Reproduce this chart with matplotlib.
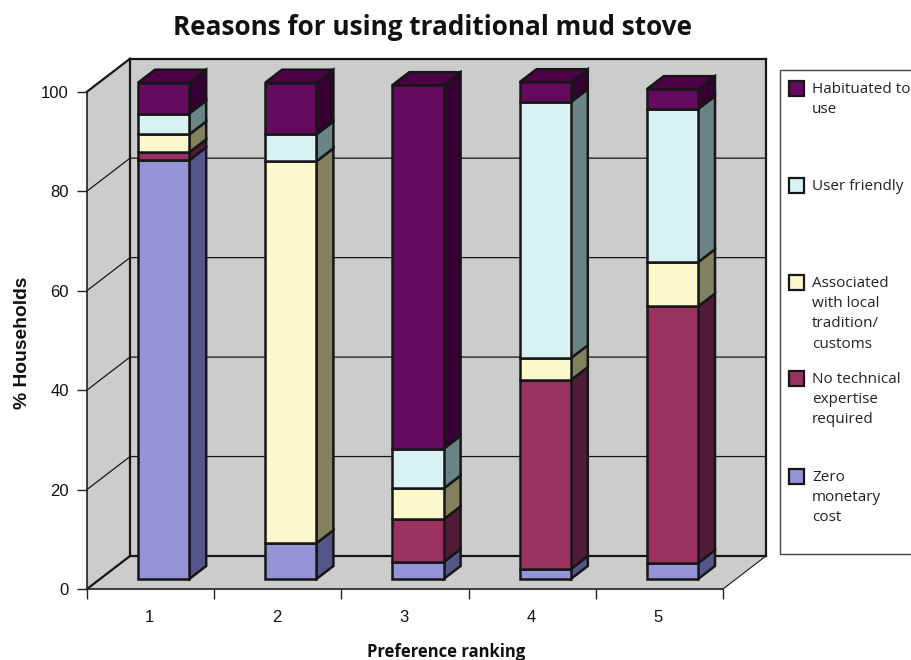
import matplotlib
matplotlib.use('Agg')
import matplotlib.pyplot as plt
from matplotlib.patches import Polygon, Rectangle

W, H = 912, 660

rankings = ['1', '2', '3', '4', '5']
zero_cost = [84.2, 7.2, 3.4, 2.0, 3.2]
no_expertise = [1.6, 0, 8.6, 38.0, 51.6]
tradition = [3.6, 76.8, 6.2, 4.4, 8.9]
user_friendly = [4.2, 5.4, 8.0, 51.5, 30.8]
habituated = [6.2, 10.4, 73.1, 4.0, 4.0]

series = [zero_cost, no_expertise, tradition, user_friendly, habituated]
face_colors = ['#9494D6', '#99325F', '#FBF8CC', '#D9F3F3', '#660A60']
side_colors = ['#55558A', '#4F1B35', '#81815F', '#688484', '#33002F']
top_colors = ['#6A6AA8', '#6E2445', '#A5A37E', '#8FB0B0', '#4D0048']

legend_labels = ['Habituated to\nuse', 'User friendly',
                 'Associated\nwith local\ntradition/\ncustoms',
                 'No technical\nexpertise\nrequired', 'Zero\nmonetary\ncost']
legend_colors = ['#660A60', '#D9F3F3', '#FBF8CC', '#99325F', '#9494D6']
legend_y = [88, 185, 282, 378, 476]

WALL = '#CCCCCC'
LINE = '#161616'

# oblique depth of the box, in data units
DEPTH_X = 43 / 127.2
DEPTH_Y = 33 / 4.973
BAR_WIDTH = 0.403
BAR_FRONT = 0.303
BAR_BACK = 0.697


def proj(x, v, d):
    return (x + d * DEPTH_X, v + d * DEPTH_Y)


def poly(ax, pts, color, lw=0.0, z=1):
    ax.add_patch(Polygon(pts, closed=True, facecolor=color, edgecolor=LINE,
                         linewidth=lw, joinstyle='miter', clip_on=False, zorder=z))


fig = plt.figure(figsize=(W / 100, H / 100), dpi=100)
ax = fig.add_axes([87 / W, 1 - 589 / H, 636 / W, 497.3 / H])
ax.set_xlim(0, 5)
ax.set_ylim(0, 100)
n = len(rankings)

# walls and floor
poly(ax, [proj(0, 0, 0), proj(0, 100, 0), proj(0, 100, 1), proj(0, 0, 1)], WALL, z=1)
poly(ax, [proj(0, 0, 1), proj(0, 100, 1), proj(n, 100, 1), proj(n, 0, 1)], WALL, z=1)
poly(ax, [proj(0, 0, 0), proj(n, 0, 0), proj(n, 0, 1), proj(0, 0, 1)], WALL, z=1)

# gridlines run across the left wall and then the back wall
for v in [20, 40, 60, 80]:
    xs, ys = zip(proj(0, v, 0), proj(0, v, 1), proj(n, v, 1))
    ax.plot(xs, ys, color=LINE, lw=0.9, clip_on=False, zorder=2)

# box outline
for a, b, lw in [(proj(0, 100, 0), proj(0, 100, 1), 1.6),
                 (proj(0, 100, 1), proj(n, 100, 1), 1.6),
                 (proj(0, 0, 1), proj(0, 100, 1), 1.6),
                 (proj(0, 0, 1), proj(n, 0, 1), 1.6),
                 (proj(n, 0, 1), proj(n, 100, 1), 1.6),
                 (proj(0, 0, 0), proj(0, 0, 1), 1.6),
                 (proj(n, 0, 0), proj(n, 0, 1), 0.8)]:
    ax.plot([a[0], b[0]], [a[1], b[1]], color=LINE, lw=lw, clip_on=False, zorder=2)

# stacked bars, one box per segment
for i in range(n):
    x0 = i + 0.5 - BAR_WIDTH / 2
    x1 = i + 0.5 + BAR_WIDTH / 2
    bottom = 0
    last = 0
    for s, values in enumerate(series):
        val = values[i]
        if val == 0:
            continue
        top = bottom + val
        poly(ax, [proj(x0, bottom, BAR_FRONT), proj(x1, bottom, BAR_FRONT),
                  proj(x1, top, BAR_FRONT), proj(x0, top, BAR_FRONT)],
             face_colors[s], lw=1.8, z=4)
        poly(ax, [proj(x1, bottom, BAR_FRONT), proj(x1, bottom, BAR_BACK),
                  proj(x1, top, BAR_BACK), proj(x1, top, BAR_FRONT)],
             side_colors[s], lw=1.8, z=3)
        bottom = top
        last = s
    poly(ax, [proj(x0, bottom, BAR_FRONT), proj(x1, bottom, BAR_FRONT),
              proj(x1, bottom, BAR_BACK), proj(x0, bottom, BAR_BACK)],
         top_colors[last], lw=1.8, z=3)

# axes
for name in ['top', 'right']:
    ax.spines[name].set_visible(False)
for name in ['left', 'bottom']:
    ax.spines[name].set_color('#222222')
    ax.spines[name].set_linewidth(1.2)
    ax.spines[name].set_zorder(5)
ax.patch.set_visible(False)
ax.set_yticks([0, 20, 40, 60, 80, 100])
ax.set_xticks(range(n + 1))
ax.set_xticklabels([])
ax.tick_params(axis='both', length=7.2, width=1.0, color='#222222',
               labelsize=12, labelcolor='#111111')
ax.tick_params(axis='y', pad=6)
for label in ax.get_yticklabels():
    label.set_family('Liberation Sans')
for i, rank in enumerate(rankings):
    fig.text((87 + 127.2 * (i + 0.5) - 1) / W, 1 - 617 / H, rank, ha='center', va='center',
             family='Liberation Sans', fontsize=12, color='#111111')

fig.text(432.5 / W, 1 - 27.6 / H, 'Reasons for using traditional mud stove', ha='center', va='center',
         family='Open Sans', fontweight='bold', fontsize=18.8, color='#111111')
fig.text(446 / W, 1 - 652 / H, 'Preference ranking', ha='center', va='center',
         family='Open Sans', fontweight='bold', fontsize=12, color='#111111')
fig.text(23 / W, 1 - 343 / H, '% Households', ha='center', va='center', rotation=90,
         family='Liberation Sans', fontweight='bold', fontsize=13.9, color='#111111')

# legend panel, its right edge runs off the canvas
fig.add_artist(Rectangle((780 / W, 1 - 554 / H), 140 / W, 484 / H, transform=fig.transFigure,
                         facecolor='white', edgecolor='#444444', linewidth=1.0))
for label, color, y in zip(legend_labels, legend_colors, legend_y):
    fig.add_artist(Rectangle((789 / W, 1 - (y + 8) / H), 15 / W, 15 / H, transform=fig.transFigure,
                             facecolor=color, edgecolor=LINE, linewidth=1.6))
    fig.text(812 / W, 1 - (y - 6) / H, label, ha='left', va='top', family='Open Sans',
             fontsize=11, color='#222222', linespacing=1.47)

fig.savefig('out.png', dpi=100)
